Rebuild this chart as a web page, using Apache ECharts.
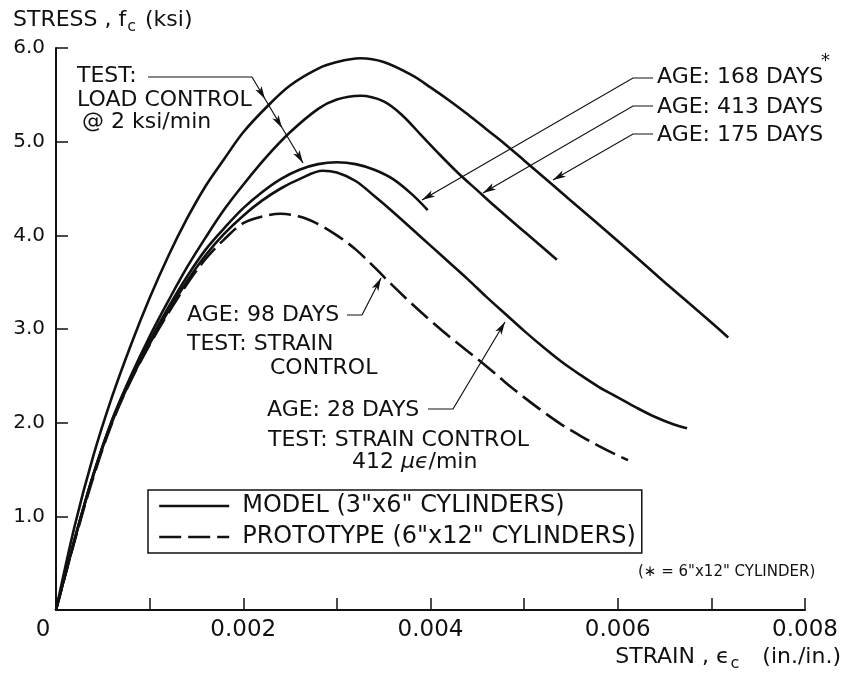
<!DOCTYPE html>
<html><head><meta charset="utf-8">
<script src="https://cdn.jsdelivr.net/npm/echarts@6/dist/echarts.min.js"></script>
<style>html,body{margin:0;padding:0;background:#fff}#c{width:844px;height:678px}</style>
</head><body><div id="c"></div>
<script>
// ---- data (strain in./in., stress ksi) ----
const xTicks = [0, 0.002, 0.004, 0.006, 0.008];
const yTicks = [1.0, 2.0, 3.0, 4.0, 5.0, 6.0];

const age175Strain = [0,0.0002,0.0004,0.0006,0.0008,0.001,0.0012,0.0014,0.0016,0.0018,0.002,0.00225,0.0025,0.0028,0.003,0.00325,0.0035,0.0038,0.004,0.0042,0.0044,0.0046,0.0048,0.005,0.0055,0.006,0.0065,0.007,0.00718];
const age175Stress = [0,0.9,1.65,2.28,2.83,3.33,3.78,4.18,4.53,4.82,5.1,5.37,5.6,5.78,5.85,5.89,5.85,5.71,5.58,5.44,5.29,5.13,4.97,4.8,4.37,3.94,3.5,3.07,2.91];

const age413Strain = [0,0.0002,0.0004,0.0006,0.0008,0.001,0.0012,0.0014,0.0016,0.0018,0.002,0.00225,0.0025,0.0028,0.003,0.00325,0.0035,0.0037,0.0039,0.0041,0.0043,0.0045,0.0047,0.005,0.00535];
const age413Stress = [0,0.76,1.45,2.03,2.5,2.92,3.3,3.66,3.98,4.28,4.54,4.84,5.1,5.35,5.45,5.49,5.43,5.28,5.07,4.86,4.66,4.48,4.3,4.04,3.74];

const age168Strain = [0,0.0002,0.0004,0.0006,0.0008,0.001,0.0012,0.0014,0.0016,0.0018,0.002,0.0022,0.0024,0.0026,0.0028,0.003,0.0032,0.0034,0.0036,0.0038,0.00397];
const age168Stress = [0,0.76,1.45,2.03,2.48,2.87,3.23,3.56,3.85,4.08,4.29,4.46,4.6,4.7,4.76,4.78,4.76,4.7,4.6,4.44,4.27];

const age28Strain = [0,0.0002,0.0004,0.0006,0.0008,0.001,0.0012,0.0014,0.0016,0.0018,0.002,0.0022,0.0024,0.0026,0.00285,0.003,0.0032,0.0034,0.0036,0.0038,0.004,0.0042,0.0044,0.0046,0.0048,0.005,0.0052,0.0054,0.0056,0.0058,0.006,0.0062,0.0064,0.0066,0.00674];
const age28Stress = [0,0.75,1.44,2.01,2.46,2.84,3.19,3.51,3.79,4.02,4.21,4.37,4.5,4.6,4.69,4.67,4.58,4.42,4.25,4.07,3.89,3.71,3.53,3.34,3.16,2.98,2.81,2.65,2.51,2.38,2.27,2.16,2.06,1.98,1.94];

const age98Strain = [0,0.0002,0.0004,0.0006,0.0008,0.001,0.0012,0.0014,0.0016,0.0018,0.002,0.0022,0.0024,0.0026,0.0028,0.003,0.0032,0.0034,0.0036,0.0038,0.004,0.0042,0.0044,0.0046,0.0048,0.005,0.0052,0.0054,0.0056,0.0058,0.006,0.00611];
const age98Stress = [0,0.74,1.42,2.0,2.45,2.83,3.17,3.48,3.75,3.96,4.13,4.2,4.23,4.2,4.12,4.0,3.85,3.66,3.46,3.27,3.09,2.92,2.76,2.6,2.43,2.27,2.12,1.98,1.86,1.75,1.65,1.6];

const MODEL = 'MODEL (3"x6" CYLINDERS)';
const PROTO = 'PROTOTYPE (6"x12" CYLINDERS)';

// ---- chart ----
const FONT = 'DejaVu Sans';
const INK = '#111';
const zip = (a, b) => a.map((v, i) => [v, b[i]]);

function curve(name, xs, ys, dashed) {
  return {
    type: 'line', name, data: zip(xs, ys), symbol: 'none', smooth: 0.35,
    lineStyle: { color: INK, width: 2.6, type: dashed ? [22, 7] : 'solid' },
    itemStyle: { color: INK }, silent: true, z: 3
  };
}

function txt(x, y, text, size, extra) {
  return { type: 'text', x, y, z: 10,
    style: Object.assign({ text, fontFamily: FONT, fontSize: size || 22, fill: INK,
      align: 'left', verticalAlign: 'middle' }, extra || {}) };
}
function pline(points, w) {
  return { type: 'polyline', z: 10, shape: { points }, style: { stroke: INK, lineWidth: w || 1.2, fill: null } };
}
function head(tip, from, len, half) {
  len = len || 13; half = half || 3.6;
  const dx = tip[0] - from[0], dy = tip[1] - from[1];
  const L = Math.hypot(dx, dy), ux = dx / L, uy = dy / L;
  const bx = tip[0] - ux * len, by = tip[1] - uy * len;
  const mx = tip[0] - ux * len * 0.75, my = tip[1] - uy * len * 0.75;
  return { type: 'polygon', z: 10, shape: { points: [tip, [bx - uy * half, by + ux * half], [mx, my], [bx + uy * half, by - ux * half]] },
    style: { fill: INK } };
}

const rich = {
  m: { fontFamily: FONT, fontSize: 22, fill: INK, lineHeight: 30, verticalAlign: 'middle' },
  s: { fontFamily: FONT, fontSize: 16, fill: INK, lineHeight: 30, verticalAlign: 'bottom', padding: [0, 2, 0, 1] }
};

const graphics = [];
// axis titles
graphics.push(txt(13, 20, '{m|STRESS , f}{s|c}{m| (ksi)}', 22, { rich }));
graphics.push(txt(841, 657, '{m|STRAIN , \u03f5}{s|c}{m|   (in./in.)}', 22, { align: 'right', rich }));

// TEST: LOAD CONTROL
graphics.push(txt(77, 76, 'TEST:'));
graphics.push(txt(77, 100, 'LOAD CONTROL'));
graphics.push(txt(82, 122, '@ 2 ksi/min'));
const t0 = [252, 77], t1 = [303, 163];
graphics.push(pline([[148, 77], t0, t1]));
[[265, 99], [282, 128], t1].forEach(p => graphics.push(head(p, t0)));

// right labels
graphics.push(txt(657, 77, 'AGE: 168 DAYS'));
graphics.push(txt(821, 61, '*', 18));
graphics.push(txt(657, 107, 'AGE: 413 DAYS'));
graphics.push(txt(657, 135, 'AGE: 175 DAYS'));
[[78, [422, 200]], [106, [483, 193]], [134, [553, 180]]].forEach(([yy, tip]) => {
  graphics.push(pline([[653, yy], [633, yy], tip]));
  graphics.push(head(tip, [633, yy]));
});

// 98 days
graphics.push(txt(187, 315, 'AGE: 98 DAYS'));
graphics.push(txt(187, 344, 'TEST: STRAIN'));
graphics.push(txt(270, 368, 'CONTROL'));
graphics.push(pline([[347, 315], [362, 315], [381, 278]]));
graphics.push(head([381, 278], [362, 315]));

// 28 days
graphics.push(txt(267, 410, 'AGE: 28 DAYS'));
graphics.push(txt(268, 440, 'TEST: STRAIN CONTROL'));
graphics.push(txt(352, 462, '{m|412 }{i|\u03bc\u03f5}{m|/min}', 22, {
  rich: { i: { fontFamily: FONT, fontSize: 22, fontStyle: 'italic', fill: INK }, m: { fontFamily: FONT, fontSize: 22, fill: INK } } }));
graphics.push(pline([[428, 409], [453, 409], [505, 322]]));
graphics.push(head([505, 322], [453, 409]));

// footnote
graphics.push(txt(638, 572, '(\u2217 = 6"x12" CYLINDER)', 15));

const chart = echarts.init(document.getElementById('c'), null, { renderer: 'canvas' });
chart.setOption({
  backgroundColor: '#fff',
  animation: false,
  grid: { left: 56, right: 39, top: 48, bottom: 68, containLabel: false },
  xAxis: {
    type: 'value', min: 0, max: 0.008, interval: 0.001,
    axisLine: { show: true, lineStyle: { color: INK, width: 2 } },
    axisTick: { show: true, inside: true, length: 12, lineStyle: { color: INK, width: 1.5 } },
    splitLine: { show: false },
    axisLabel: {
      margin: 9, color: INK, fontFamily: FONT, fontSize: 23,
      formatter: v => {
        const t = xTicks.find(x => Math.abs(x - v) < 1e-9);
        if (t === undefined) return '';
        return t === 0 ? '{z|0}' : t.toFixed(3);
      },
      rich: { z: { fontFamily: FONT, fontSize: 23, color: INK, padding: [0, 26, 0, 0] } }
    }
  },
  yAxis: {
    type: 'value', min: 0, max: 6, interval: 1,
    axisLine: { show: true, lineStyle: { color: INK, width: 2 } },
    axisTick: { show: true, inside: true, length: 12, lineStyle: { color: INK, width: 1.5 } },
    splitLine: { show: false },
    axisLabel: {
      margin: 11, color: INK, fontFamily: FONT, fontSize: 20,
      formatter: v => { const t = yTicks.find(y => Math.abs(y - v) < 1e-9); return t === undefined ? '' : t.toFixed(1); }
    }
  },
  legend: {
    data: [MODEL, PROTO], orient: 'vertical', left: 148, top: 490,
    itemWidth: 70, itemHeight: 20, itemGap: 7, padding: [4, 6, 4, 10],
    borderColor: INK, borderWidth: 1.5, selectedMode: false,
    itemStyle: { opacity: 0, borderWidth: 0 },
    lineStyle: { width: 2.4 },
    textStyle: { fontFamily: FONT, fontSize: 24, color: INK, padding: [0, 0, 0, 8] }
  },
  series: [
    curve(MODEL, age175Strain, age175Stress, false),
    curve(MODEL, age413Strain, age413Stress, false),
    curve(MODEL, age168Strain, age168Stress, false),
    curve(MODEL, age28Strain, age28Stress, false),
    curve(PROTO, age98Strain, age98Stress, true)
  ],
  graphic: graphics
});
</script></body></html>
